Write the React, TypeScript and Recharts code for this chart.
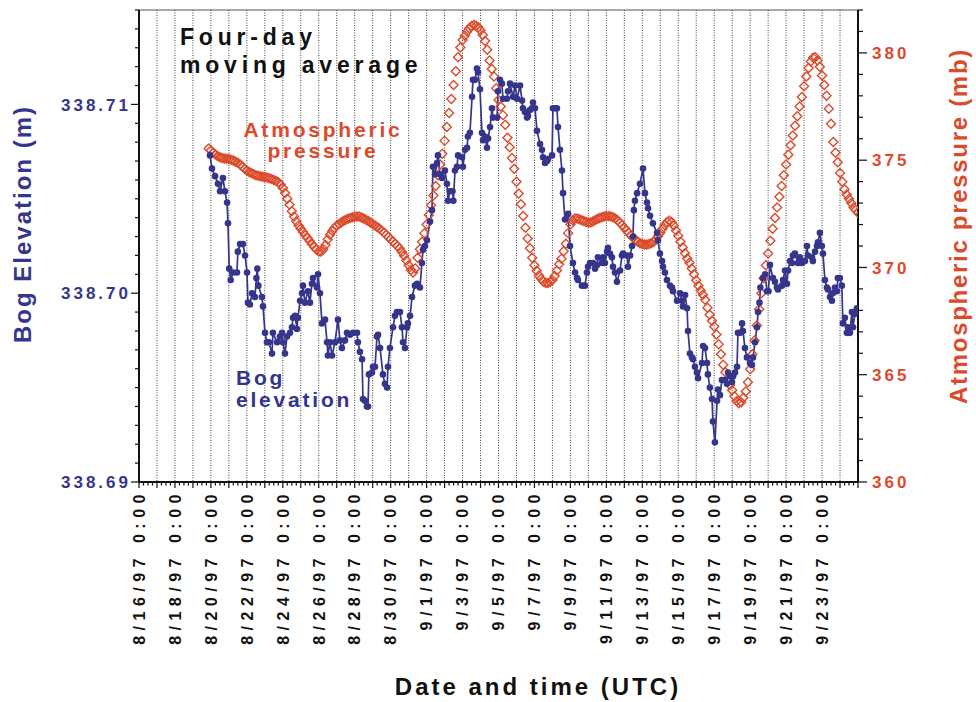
import React from 'react';
import { LineChart, Line, XAxis, YAxis, CartesianGrid, ReferenceLine } from 'recharts';

const NAVY = '#35358c';
const RED = '#dc4a2b';
const FONT = '"Liberation Sans", Arial, Helvetica, sans-serif';

// x axis: days since 8/16/97 0:00
const dateLabels = [
  '8/16/97 0:00', '8/18/97 0:00', '8/20/97 0:00', '8/22/97 0:00', '8/24/97 0:00',
  '8/26/97 0:00', '8/28/97 0:00', '8/30/97 0:00', '9/1/97 0:00', '9/3/97 0:00',
  '9/5/97 0:00', '9/7/97 0:00', '9/9/97 0:00', '9/11/97 0:00', '9/13/97 0:00',
  '9/15/97 0:00', '9/17/97 0:00', '9/19/97 0:00', '9/21/97 0:00', '9/23/97 0:00',
];
const gridDays = Array.from({ length: 39 }, (_, i) => i + 1);
const xTicks = Array.from({ length: 161 }, (_, i) => i / 4);

const elevLabels = ['338.69', '338.70', '338.71'];
const elevTicks = Array.from({ length: 26 }, (_, i) => +(338.69 + i * 0.001).toFixed(3));
const pressureLabels = ['360', '365', '370', '375', '380'];
const pressureTicks = Array.from({ length: 23 }, (_, i) => 360 + i);

// bog elevation (m): [day, value]
const bogReadings: [number, number][] = [
  [3.95, 338.7073], [4.06, 338.7066], [4.23, 338.7062], [4.39, 338.7058], [4.51, 338.7054],
  [4.67, 338.7061], [4.78, 338.7054], [4.9, 338.7048], [4.95, 338.7037], [5.02, 338.7013],
  [5.1, 338.7007], [5.23, 338.7011], [5.45, 338.7011], [5.5, 338.7022], [5.62, 338.7026],
  [5.78, 338.7026], [5.9, 338.702], [6.01, 338.7011], [6.06, 338.6995], [6.17, 338.6994],
  [6.29, 338.7], [6.45, 338.6998], [6.53, 338.7008], [6.58, 338.7013], [6.64, 338.7004],
  [6.84, 338.6998], [6.9, 338.6993], [7.01, 338.6979], [7.12, 338.6974], [7.23, 338.6974],
  [7.4, 338.6968], [7.45, 338.6979], [7.68, 338.6974], [7.84, 338.6977], [7.96, 338.6979],
  [8.01, 338.6974], [8.12, 338.6968], [8.23, 338.6977], [8.4, 338.6979], [8.51, 338.6982],
  [8.57, 338.6987], [8.68, 338.6988], [8.79, 338.6981], [8.84, 338.6987], [8.96, 338.6996],
  [9.07, 338.7], [9.12, 338.7004], [9.23, 338.6995], [9.4, 338.7001], [9.51, 338.6995],
  [9.62, 338.7005], [9.68, 338.7008], [9.9, 338.7003], [9.96, 338.701], [10.07, 338.7],
  [10.18, 338.6984], [10.35, 338.6986], [10.46, 338.6974], [10.51, 338.6967], [10.62, 338.6974],
  [10.74, 338.6967], [10.9, 338.6974], [11.07, 338.6986], [11.18, 338.6975], [11.29, 338.6971],
  [11.46, 338.6975], [11.57, 338.6979], [11.74, 338.6978], [11.91, 338.6979], [12.13, 338.6979],
  [12.18, 338.6974], [12.29, 338.6969], [12.41, 338.6965], [12.46, 338.6944], [12.57, 338.6943],
  [12.68, 338.694], [12.74, 338.694], [12.79, 338.6957], [12.96, 338.6958], [13.02, 338.6961],
  [13.13, 338.6961], [13.24, 338.6977], [13.3, 338.6978], [13.41, 338.6971], [13.57, 338.6957],
  [13.68, 338.6952], [13.8, 338.695], [13.85, 338.6961], [13.96, 338.6971], [14.13, 338.6982],
  [14.24, 338.6988], [14.35, 338.699], [14.52, 338.699], [14.63, 338.6982], [14.69, 338.6974],
  [14.8, 338.6971], [14.91, 338.6982], [14.96, 338.6984], [15.08, 338.6988], [15.19, 338.6998],
  [15.35, 338.7004], [15.47, 338.7005], [15.63, 338.7003], [15.74, 338.7016], [15.8, 338.7023],
  [15.91, 338.7025], [16.02, 338.7028], [16.19, 338.7038], [16.3, 338.7044], [16.35, 338.7067],
  [16.47, 338.7063], [16.58, 338.7069], [16.63, 338.7073], [16.74, 338.7063], [16.86, 338.7061],
  [17.02, 338.7065], [17.13, 338.7058], [17.19, 338.7049], [17.3, 338.7054], [17.44, 338.7054],
  [17.49, 338.7049], [17.58, 338.7065], [17.69, 338.7067], [17.75, 338.7073], [17.97, 338.7072],
  [18.02, 338.7067], [18.14, 338.7076], [18.25, 338.7077], [18.3, 338.7083], [18.41, 338.7085],
  [18.53, 338.7104], [18.58, 338.7113], [18.69, 338.7113], [18.8, 338.7119], [18.86, 338.7117],
  [18.97, 338.7108], [19.08, 338.7085], [19.14, 338.7081], [19.25, 338.7083], [19.36, 338.7077],
  [19.42, 338.7082], [19.53, 338.7088], [19.64, 338.7098], [19.69, 338.7093], [19.92, 338.7093],
  [19.97, 338.7107], [20.08, 338.7113], [20.19, 338.7111], [20.25, 338.7103], [20.47, 338.7103],
  [20.53, 338.7107], [20.64, 338.7111], [20.81, 338.7104], [20.92, 338.711], [21.03, 338.7103],
  [21.2, 338.711], [21.31, 338.7102], [21.36, 338.7098], [21.47, 338.7096], [21.59, 338.7093],
  [21.64, 338.7094], [21.75, 338.7097], [21.86, 338.7098], [21.92, 338.7101], [22.03, 338.7098],
  [22.14, 338.7086], [22.31, 338.7079], [22.42, 338.7076], [22.48, 338.7072], [22.59, 338.7069],
  [22.7, 338.707], [22.75, 338.7071], [22.98, 338.7073], [23.03, 338.7098], [23.14, 338.7098],
  [23.25, 338.7098], [23.31, 338.7088], [23.42, 338.7076], [23.53, 338.7065], [23.59, 338.7053],
  [23.7, 338.7039], [23.87, 338.7042], [23.98, 338.7025], [24.14, 338.7016], [24.26, 338.7011],
  [24.37, 338.7008], [24.42, 338.7007], [24.64, 338.7004], [24.81, 338.7004], [24.92, 338.7011],
  [24.98, 338.7014], [25.09, 338.7016], [25.26, 338.7016], [25.37, 338.7013], [25.48, 338.7015],
  [25.53, 338.7019], [25.76, 338.7016], [25.81, 338.7019], [25.92, 338.7016], [26.04, 338.7022],
  [26.09, 338.7024], [26.2, 338.7021], [26.31, 338.7019], [26.37, 338.7014], [26.48, 338.7011],
  [26.59, 338.7006], [26.76, 338.7012], [26.87, 338.702], [26.93, 338.7021], [27.15, 338.702],
  [27.2, 338.7014], [27.32, 338.702], [27.43, 338.7025], [27.48, 338.703], [27.53, 338.7044],
  [27.59, 338.7049], [27.71, 338.7053], [27.87, 338.7058], [28.04, 338.7066], [28.15, 338.7053],
  [28.26, 338.7048], [28.32, 338.7045], [28.43, 338.7041], [28.59, 338.7037], [28.82, 338.7032],
  [28.87, 338.7028], [28.98, 338.7021], [29.1, 338.7017], [29.15, 338.7014], [29.26, 338.7011],
  [29.37, 338.7007], [29.54, 338.7004], [29.65, 338.7003], [29.71, 338.7001], [29.93, 338.6996],
  [30.1, 338.7], [30.21, 338.6996], [30.26, 338.6993], [30.38, 338.6999], [30.49, 338.6992],
  [30.54, 338.698], [30.65, 338.6968], [30.76, 338.6966], [30.82, 338.6965], [30.93, 338.6961],
  [31.04, 338.6958], [31.1, 338.6955], [31.32, 338.6963], [31.38, 338.6972], [31.49, 338.6971],
  [31.6, 338.6963], [31.65, 338.6957], [31.76, 338.695], [31.88, 338.6944], [31.93, 338.6932],
  [32.04, 338.6921], [32.16, 338.6943], [32.21, 338.6949], [32.32, 338.6946], [32.43, 338.6954],
  [32.6, 338.6954], [32.71, 338.6952], [32.77, 338.6958], [32.88, 338.6956], [32.99, 338.6953],
  [33.05, 338.6956], [33.16, 338.6958], [33.27, 338.6961], [33.32, 338.6979], [33.44, 338.6979],
  [33.55, 338.6984], [33.6, 338.698], [33.71, 338.6971], [33.82, 338.6966], [33.99, 338.6963],
  [34.1, 338.6962], [34.16, 338.6966], [34.27, 338.6974], [34.38, 338.6982], [34.44, 338.699],
  [34.52, 338.6995], [34.57, 338.7003], [34.71, 338.7008], [34.83, 338.701], [34.94, 338.7001],
  [35.02, 338.7001], [35.1, 338.7015], [35.27, 338.7008], [35.38, 338.7006], [35.49, 338.7003],
  [35.55, 338.7002], [35.77, 338.7004], [35.83, 338.7007], [35.94, 338.7012], [36.05, 338.7005],
  [36.11, 338.7012], [36.22, 338.7017], [36.33, 338.7016], [36.38, 338.702], [36.49, 338.7021],
  [36.66, 338.7016], [36.77, 338.7019], [36.88, 338.7016], [37.05, 338.7017], [37.16, 338.7025],
  [37.22, 338.702], [37.44, 338.7019], [37.49, 338.7017], [37.61, 338.7022], [37.72, 338.7025],
  [37.77, 338.7027], [37.88, 338.7032], [37.99, 338.7025], [38.05, 338.7021], [38.16, 338.7007],
  [38.27, 338.7003], [38.33, 338.7002], [38.44, 338.6998], [38.55, 338.6996], [38.6, 338.7],
  [38.72, 338.7003], [38.83, 338.7001], [38.88, 338.7008], [38.99, 338.7008], [39.1, 338.7004],
  [39.16, 338.6984], [39.27, 338.6987], [39.38, 338.6979], [39.44, 338.6982], [39.55, 338.6979],
  [39.66, 338.699], [39.72, 338.6982], [39.83, 338.6989], [39.94, 338.6992],
];

// atmospheric pressure (mb), every 3 hours from day 3.875
const pressureStartDay = 3.875;
const pressureStepDays = 0.125;
const pressureValues = [
  375.55,
  375.45, 375.35, 375.27, 375.2, 375.14, 375.1, 375.08, 375.07,
  375.05, 375.02, 374.98, 374.93, 374.88, 374.8, 374.7, 374.6,
  374.52, 374.45, 374.4, 374.35, 374.3, 374.27, 374.25, 374.23,
  374.21, 374.19, 374.16, 374.12, 374.08, 374.03, 373.97, 373.87,
  373.7, 373.47, 373.2, 372.92, 372.62, 372.38, 372.15, 371.95,
  371.8, 371.65, 371.5, 371.37, 371.23, 371.08, 370.95, 370.83,
  370.74, 370.74, 370.85, 371.05, 371.3, 371.52, 371.7, 371.84,
  371.95, 372.03, 372.1, 372.16, 372.22, 372.27, 372.31, 372.34,
  372.36, 372.37, 372.37, 372.33, 372.28, 372.22, 372.16, 372.1,
  372.03, 371.96, 371.89, 371.81, 371.72, 371.63, 371.53, 371.42,
  371.31, 371.21, 371.11, 371.0, 370.88, 370.72, 370.55, 370.32,
  370.1, 369.88, 369.77, 369.95, 370.45, 370.85, 371.2, 371.6,
  372.0, 372.45, 372.9, 373.35, 373.8, 374.3, 374.8, 375.3,
  375.9, 376.55, 377.2, 377.85, 378.5, 379.15, 379.8, 380.25,
  380.6, 380.8, 381.0, 381.15, 381.25, 381.3, 381.27, 381.2,
  381.05, 380.83, 380.55, 380.15, 379.65, 379.25, 378.9, 378.35,
  377.8, 377.5, 377.1, 376.65, 376.05, 375.6, 375.1, 374.6,
  374.0, 373.45, 372.95, 372.4, 371.85, 371.35, 370.9, 370.45,
  370.1, 369.85, 369.63, 369.47, 369.33, 369.27, 369.27, 369.32,
  369.42, 369.6, 369.86, 370.15, 370.4, 370.75, 371.1, 371.6,
  372.0, 372.2, 372.28, 372.28, 372.25, 372.2, 372.16, 372.12,
  372.1, 372.1, 372.14, 372.2, 372.26, 372.3, 372.34, 372.37,
  372.39, 372.4, 372.38, 372.34, 372.28, 372.2, 372.1, 371.98,
  371.85, 371.72, 371.6, 371.48, 371.38, 371.28, 371.2, 371.13,
  371.09, 371.07, 371.07, 371.09, 371.13, 371.19, 371.3, 371.45,
  371.62, 371.8, 371.98, 372.12, 372.18, 372.12, 371.95, 371.72,
  371.48, 371.2, 370.93, 370.66, 370.42, 370.22, 369.95, 369.68,
  369.4, 369.15, 368.93, 368.73, 368.5, 368.12, 367.8, 367.52,
  367.25, 366.88, 366.42, 365.95, 365.47, 365.12, 364.8, 364.52,
  364.28, 364.0, 363.77, 363.67, 363.72, 363.93, 364.22, 364.65,
  365.25, 365.95, 366.6, 367.3, 368.05, 368.8, 369.5, 370.1,
  370.65, 371.25, 371.8, 372.3, 372.8, 373.3, 373.8, 374.3,
  374.8, 375.25, 375.7, 376.15, 376.6, 377.05, 377.5, 377.95,
  378.45, 378.9, 379.3, 379.6, 379.78, 379.8, 379.65, 379.35,
  378.95, 378.5, 378.0, 377.4, 376.7, 375.85, 375.35, 374.9,
  374.4, 374.0, 373.65, 373.4, 373.2, 373.0, 372.8, 372.68,
  372.55,
];

const bogData = bogReadings.map(([d, v]) => ({ d, v }));
const pressureData = pressureValues.map((p, i) => ({ d: pressureStartDay + i * pressureStepDays, p }));

function DateTick({ x, y, payload }: any) {
  const d = payload.value as number;
  const day = Math.round(d);
  const whole = Math.abs(d - day) < 1e-6;
  const label = whole && day % 2 === 0 && day <= 38 ? dateLabels[day / 2] : null;
  const ly = y + 7;
  return (
    <g>
      <line x1={x} x2={x} y1={y} y2={y + (whole ? 6 : 3.5)} stroke="#111" strokeWidth={1.2} />
      {label && (
        <text
          x={x}
          y={ly}
          dy="0.36em"
          transform={`rotate(-90 ${x} ${ly})`}
          textAnchor="end"
          fontFamily={FONT}
          fontWeight="bold"
          fontSize={16}
          letterSpacing={5.5}
          fill="#111"
        >
          {label}
        </text>
      )}
    </g>
  );
}

function ElevTick({ x, y, index }: any) {
  const major = index % 10 === 0;
  return (
    <g>
      <line x1={x} x2={x - (major ? 8 : 4)} y1={y} y2={y} stroke="#111" strokeWidth={1.2} />
      {major && (
        <text x={x - 8} y={y} dy="0.36em" textAnchor="end" fontFamily={FONT} fontWeight="bold"
          fontSize={17} letterSpacing={3} fill={NAVY}>
          {elevLabels[index / 10]}
        </text>
      )}
    </g>
  );
}

function PressureTick({ x, y, index }: any) {
  const major = index % 5 === 0;
  return (
    <g>
      <line x1={x} x2={x + (major ? 9 : 5)} y1={y} y2={y} stroke="#111" strokeWidth={1.2} />
      {major && (
        <text x={x + 14} y={y} dy="0.36em" textAnchor="start" fontFamily={FONT} fontWeight="bold"
          fontSize={17} letterSpacing={3} fill={RED}>
          {pressureLabels[index / 5]}
        </text>
      )}
    </g>
  );
}

function DiamondDot({ cx, cy }: any) {
  if (cx == null || cy == null) return null;
  const r = 4.5;
  return (
    <path
      d={`M${cx},${cy - r}L${cx + r},${cy}L${cx},${cy + r}L${cx - r},${cy}Z`}
      fill="none"
      stroke={RED}
      strokeWidth={1.4}
    />
  );
}

const textBase = { fontFamily: FONT, fontWeight: 'bold' as const };

export default function App() {
  return (
    <div style={{ position: 'absolute', left: 0, top: 0, width: 976, height: 702, background: '#fff' }}>
      <LineChart width={976} height={702} margin={{ top: 10, right: 58, bottom: 160, left: 79 }}>
        <CartesianGrid
          yAxisId="left"
          horizontal={false}
          verticalValues={gridDays}
          stroke="#444"
          strokeDasharray="1 1.5"
        />
        <XAxis
          type="number"
          dataKey="d"
          domain={[0, 40]}
          allowDataOverflow
          ticks={xTicks}
          interval={0}
          tick={<DateTick />}
          tickLine={false}
          tickSize={0}
          tickMargin={0}
          height={60}
          axisLine={{ stroke: '#111', strokeWidth: 2 }}
        />
        <YAxis
          yAxisId="left"
          domain={[338.69, 338.715]}
          allowDataOverflow
          ticks={elevTicks}
          interval={0}
          tick={<ElevTick />}
          tickLine={false}
          tickSize={0}
          tickMargin={0}
          width={60}
          axisLine={{ stroke: '#111', strokeWidth: 2 }}
        />
        <YAxis
          yAxisId="right"
          orientation="right"
          domain={[360, 382]}
          allowDataOverflow
          ticks={pressureTicks}
          interval={0}
          tick={<PressureTick />}
          tickLine={false}
          tickSize={0}
          tickMargin={0}
          width={60}
          axisLine={{ stroke: '#111', strokeWidth: 2 }}
        />
        <ReferenceLine yAxisId="left" y={338.715} stroke="#555" strokeWidth={1} />
        <Line
          yAxisId="right"
          data={pressureData}
          dataKey="p"
          stroke="none"
          isAnimationActive={false}
          dot={(p: any) => <DiamondDot key={`pd-${p.index}`} {...p} />}
          activeDot={false}
        />
        <Line
          yAxisId="left"
          data={bogData}
          dataKey="v"
          type="linear"
          stroke={NAVY}
          strokeWidth={1.7}
          isAnimationActive={false}
          dot={{ r: 3.3, fill: NAVY, stroke: NAVY, strokeWidth: 0 }}
          activeDot={false}
        />
      </LineChart>
      <svg width={976} height={702} style={{ position: 'absolute', left: 0, top: 0, pointerEvents: 'none' }}>
        <text x={22} y={224} dy="0.36em" transform="rotate(-90 22 224)" textAnchor="middle"
          fontSize={24} letterSpacing={2} fill={NAVY} {...textBase}>Bog Elevation (m)</text>
        <text x={958} y={226} dy="0.36em" transform="rotate(-90 958 226)" textAnchor="middle"
          fontSize={24} letterSpacing={1.7} fill={RED} {...textBase}>Atmospheric pressure (mb)</text>
        <text x={538} y={695} textAnchor="middle" fontSize={24} letterSpacing={3} fill="#111" {...textBase}>
          Date and time (UTC)
        </text>
        <text x={180} y={45} fontSize={23} letterSpacing={4.8} fill="#111" {...textBase}>Four-day</text>
        <text x={180} y={73} fontSize={23} letterSpacing={4.8} fill="#111" {...textBase}>moving average</text>
        <text x={323} y={137} textAnchor="middle" fontSize={21} letterSpacing={2.8} fill={RED} {...textBase}>Atmospheric</text>
        <text x={323} y={158} textAnchor="middle" fontSize={21} letterSpacing={2.8} fill={RED} {...textBase}>pressure</text>
        <text x={236} y={385} fontSize={21} letterSpacing={2.8} fill={NAVY} {...textBase}>Bog</text>
        <text x={236} y={407} fontSize={21} letterSpacing={2.8} fill={NAVY} {...textBase}>elevation</text>
      </svg>
    </div>
  );
}
